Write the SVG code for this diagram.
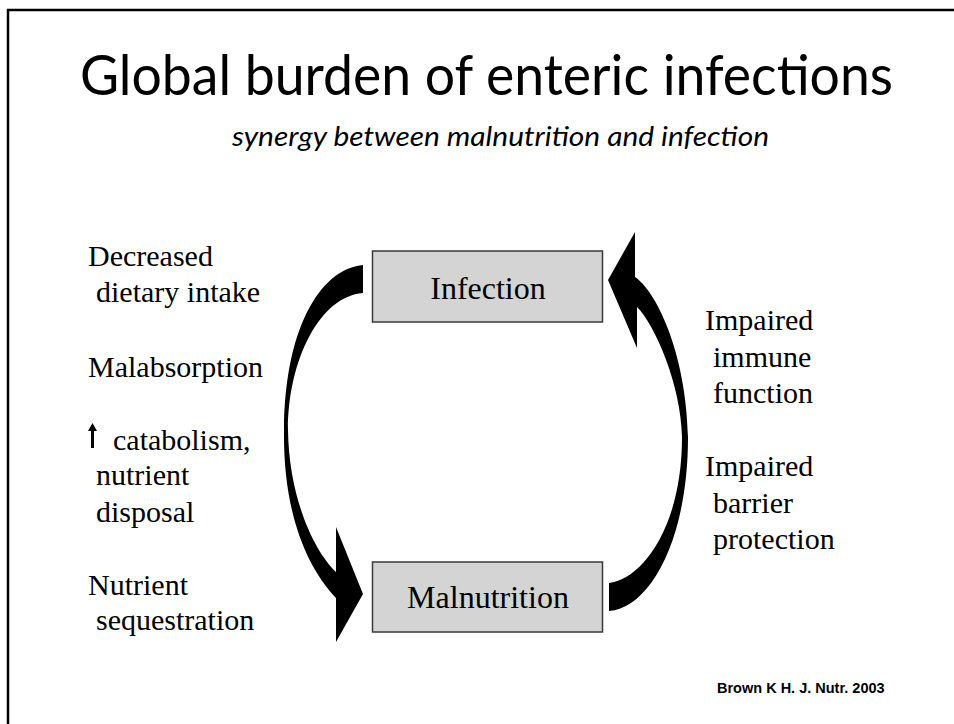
<svg xmlns="http://www.w3.org/2000/svg" width="954" height="724" viewBox="0 0 954 724">
<style>
.title{font-family:Lato,"Open Sans","Liberation Sans",sans-serif;fill:#000}
.lbl{font-family:"Liberation Serif","Times New Roman",serif;font-size:30px;fill:#000}
.box{fill:#d4d4d4;stroke:#3a3a3a;stroke-width:1.5}
.boxt{font-family:"Liberation Serif","Times New Roman",serif;font-size:32px;fill:#000;text-anchor:middle}
.arrow{fill:#000;stroke:none}
</style>
<rect width="954" height="724" fill="#fff"/>
<path d="M8,724 V10 H954" fill="none" stroke="#000" stroke-width="2.5"/>
<text class="title" x="80" y="95" font-size="56" textLength="813" lengthAdjust="spacingAndGlyphs">Global burden of enteric infections</text>
<text class="title" x="232" y="146" font-size="27" font-style="italic" textLength="537" lengthAdjust="spacingAndGlyphs">synergy between malnutrition and infection</text>
<g id="connectors">
<path class="arrow" d="M363,265 C325,268 285,320 284,430 C283,510 305,565 336,598 L336,642 L363,594 L336,527 L336,572 C315,552 289,500 288,430 C288,360 320,296 363,293 Z"/>
<path class="arrow" d="M609,583 C640,580 682,530 682,437 C681,385 655,325 637,307 L637,348 L608,280 L635,232 L635,277 C655,290 686,350 688,437 C688,540 650,608 609,611 Z"/>
</g>
<g id="infection">
<rect class="box" x="372.5" y="251" width="230" height="71"/>
<text class="boxt" x="488" y="299">Infection</text>
</g>
<g id="malnutrition">
<rect class="box" x="372.5" y="562" width="230" height="70"/>
<text class="boxt" x="488" y="608">Malnutrition</text>
</g>
<g id="left-labels">
<text class="lbl" x="88" y="266">Decreased</text>
<text class="lbl" x="96" y="302">dietary intake</text>
<text class="lbl" x="88" y="377">Malabsorption</text>
<path d="M92.5,423 L97,431 L94,431 L94,448 L91,448 L91,431 L88,431 Z" fill="#000"/>
<text class="lbl" x="113" y="450">catabolism,</text>
<text class="lbl" x="96" y="485">nutrient</text>
<text class="lbl" x="96" y="522">disposal</text>
<text class="lbl" x="88" y="595">Nutrient</text>
<text class="lbl" x="96" y="630">sequestration</text>
</g>
<g id="right-labels">
<text class="lbl" x="705" y="330">Impaired</text>
<text class="lbl" x="713" y="367">immune</text>
<text class="lbl" x="713" y="403">function</text>
<text class="lbl" x="705" y="476">Impaired</text>
<text class="lbl" x="713" y="513">barrier</text>
<text class="lbl" x="713" y="549">protection</text>
</g>
<text x="717" y="693" font-family="'Liberation Sans',Arial,sans-serif" font-weight="bold" font-size="14.5" fill="#000">Brown K H. J. Nutr. 2003</text>
</svg>
